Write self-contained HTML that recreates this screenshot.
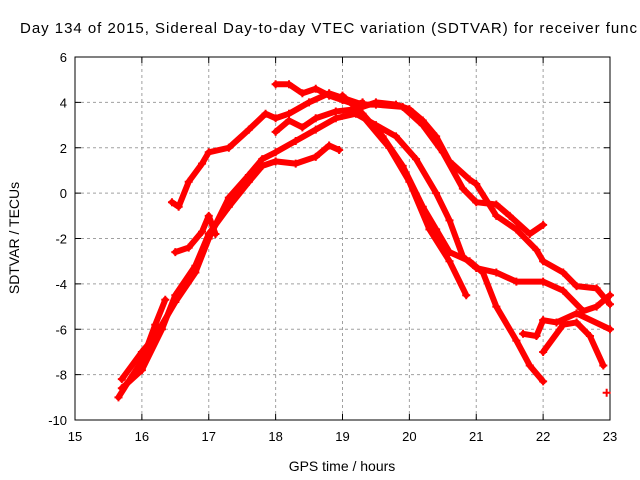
<!DOCTYPE html>
<html><head><meta charset="utf-8"><style>
body{margin:0;background:#fff;font-family:"Liberation Sans",sans-serif}
svg text{font-family:"Liberation Sans",sans-serif;fill:#000}
</style></head><body>
<svg width="640" height="480" style="display:block">
<rect width="640" height="480" fill="#fff"/>
<text x="20" y="33" font-size="15" textLength="617" lengthAdjust="spacing">Day 134 of 2015, Sidereal Day-to-day VTEC variation (SDTVAR) for receiver func</text>
<g id="grid"></g>
<g id="axes"></g>
<g id="series"></g>
<text x="342" y="471" font-size="14" text-anchor="middle">GPS time / hours</text>
<text transform="translate(19,238) rotate(-90)" font-size="14" text-anchor="middle">SDTVAR / TECUs</text>
</svg>
<script>
const xTicks=[15,16,17,18,19,20,21,22,23];
const yTicks=[6,4,2,0,-2,-4,-6,-8,-10];
const s1=[[16.45,-0.4],[16.55,-0.6],[16.7,0.5],[16.9,1.3],[17.0,1.8],[17.3,2.0],[17.6,2.8],[17.85,3.5],[18.0,3.3],[18.2,3.5],[18.5,4.0],[18.8,4.4],[19.0,4.2],[19.3,3.9],[19.5,3.9],[19.9,3.8],[20.2,3.0],[20.5,1.8],[20.8,0.2],[21.0,-0.4],[21.3,-0.5],[21.5,-1.0],[21.8,-1.8],[22.0,-1.4]];
const s2=[[15.7,-8.6],[16.0,-7.8],[16.3,-6.0],[16.5,-4.5],[16.8,-3.2],[17.0,-1.8],[17.3,-0.6],[17.6,0.5],[17.8,1.2],[18.0,1.4],[18.3,1.3],[18.6,1.6],[18.8,2.1],[18.95,1.9]];
const s3=[[15.7,-8.2],[16.0,-7.0],[16.2,-6.3],[16.5,-4.8],[16.8,-3.5],[17.0,-2.0],[17.3,-0.2],[17.6,0.8],[17.8,1.5],[18.0,1.8],[18.3,2.3],[18.6,2.8],[18.9,3.3],[19.2,3.5],[19.5,3.0],[19.8,2.5],[20.1,1.5],[20.4,0.0],[20.6,-1.2],[20.8,-2.8],[21.0,-3.3],[21.3,-3.5],[21.6,-3.9],[22.0,-3.9],[22.3,-4.3],[22.6,-5.2],[22.8,-5.0],[23.0,-4.5]];
const s4=[[15.65,-9.0],[15.8,-8.3],[16.0,-7.4],[16.2,-5.8],[16.35,-4.7]];
const s5=[[16.5,-2.6],[16.7,-2.4],[16.9,-1.7],[17.0,-1.0],[17.1,-1.8]];
const s6=[[18.0,4.8],[18.2,4.8],[18.4,4.4],[18.6,4.6],[18.8,4.3],[19.0,4.1],[19.2,3.9],[19.3,4.0]];
const s7=[[18.0,2.7],[18.2,3.2],[18.4,2.9],[18.6,3.3],[18.9,3.6],[19.2,3.7],[19.5,4.0],[19.8,3.9],[20.0,3.7],[20.2,3.2],[20.4,2.5],[20.6,1.4],[20.9,0.6],[21.0,0.4],[21.3,-1.0],[21.6,-1.6],[21.9,-2.5],[22.0,-3.0],[22.3,-3.5],[22.5,-4.1],[22.8,-4.2],[23.0,-4.9]];
const s8=[[19.0,4.3],[19.3,3.5],[19.6,2.5],[19.9,1.2],[20.2,-0.6],[20.4,-1.6],[20.6,-2.6],[20.9,-3.0],[21.1,-3.5],[21.3,-5.0],[21.6,-6.5],[21.8,-7.6],[22.0,-8.3]];
const s9=[[19.3,3.4],[19.7,2.0],[20.0,0.5],[20.3,-1.6],[20.6,-3.0],[20.85,-4.5]];
const s10=[[21.7,-6.2],[21.9,-6.3],[22.0,-5.6],[22.2,-5.7],[22.5,-5.3],[23.0,-6.0]];
const s11=[[22.0,-7.0],[22.3,-5.8],[22.5,-5.7],[22.7,-6.3],[22.9,-7.6]];
const s12=[[22.95,-8.8]];
const seriesList=[s1,s2,s3,s4,s5,s6,s7,s8,s9,s10,s11,s12];
const X0=75,X1=610,Y0=420,Y1=57;
const xs=v=>X0+(v-15)/8*(X1-X0);
const ys=v=>Y0-(v+10)/16*(Y0-Y1);
const NS="http://www.w3.org/2000/svg";
function mk(t,a,p){const e=document.createElementNS(NS,t);for(const k in a)e.setAttribute(k,a[k]);p.appendChild(e);return e;}
const g=document.getElementById('grid'),ax=document.getElementById('axes'),sg=document.getElementById('series');
xTicks.forEach(t=>{const x=xs(t);
 if(t>15&&t<23){const l=mk('line',{x1:x,x2:x,y1:Y1,y2:Y0,stroke:'#a0a0a0','stroke-dasharray':'3,3'},g);
 
 }
 const tk=mk('line',{x1:x,x2:x,y1:Y0,y2:Y0-6,stroke:'#000'},ax);
 
 
 const tk2=mk('line',{x1:x,x2:x,y1:Y1,y2:Y1+6,stroke:'#000'},ax);
 
 
 const tx=mk('text',{x:x,y:441,'font-size':13,'text-anchor':'middle'},ax);tx.textContent=t;
 
 });
yTicks.forEach(t=>{const y=ys(t);
 if(t<6&&t>-10){const l=mk('line',{x1:X0,x2:X1,y1:y,y2:y,stroke:'#a0a0a0','stroke-dasharray':'3,3'},g);
 
 }
 const tk=mk('line',{x1:X0,x2:X0+6,y1:y,y2:y,stroke:'#000'},ax);
 
 
 const tk2=mk('line',{x1:X1,x2:X1-6,y1:y,y2:y,stroke:'#000'},ax);
 
 
 const tx=mk('text',{x:X0-8,y:y+5,'font-size':13,'text-anchor':'end'},ax);tx.textContent=t;
 
 });
const fr=mk('rect',{x:X0,y:Y1,width:X1-X0,height:Y0-Y1,fill:'none',stroke:'#000'},ax);


seriesList.forEach((s,i)=>{
 const pts=s.map(p=>xs(p[0])+','+ys(p[1])).join(' ');
 const pl=mk('polyline',{points:pts,fill:'none',stroke:'#ff0000','stroke-width':6,'stroke-linejoin':'round','stroke-linecap':'round'},sg);
 
 
 s.forEach(p=>{const x=xs(p[0]),y=ys(p[1]);
  const m=mk('path',{d:`M${x-4},${y}H${x+4}M${x},${y-4}V${y+4}`,stroke:'#ff0000','stroke-width':2},sg);
  
  });
});
</script>
</body></html>
